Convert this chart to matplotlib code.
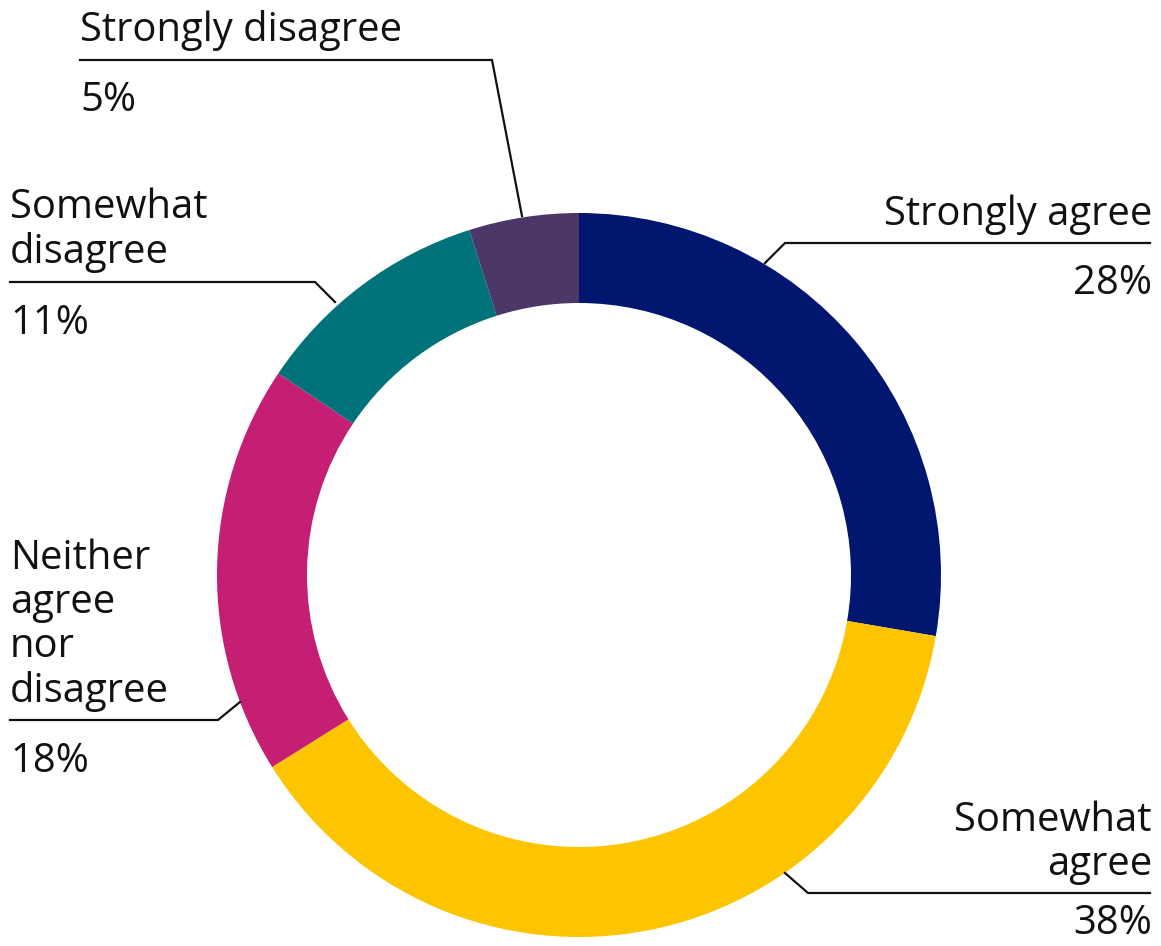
import matplotlib
matplotlib.use('Agg')
import matplotlib.pyplot as plt

labels = ['Strongly agree', 'Somewhat\nagree', 'Neither\nagree\nnor\ndisagree',
          'Somewhat\ndisagree', 'Strongly disagree']
values = [27.7, 38.4, 18.3, 10.7, 4.9]
pct_labels = ['28%', '38%', '18%', '11%', '5%']
colors = ['#00166F', '#FDC500', '#C41F73', '#00737A', '#4B3869']

W, H = 1161, 946
fig = plt.figure(figsize=(W / 100, H / 100), dpi=100)
ax = fig.add_axes([0, 0, 1, 1])

cx, cy = 579, H - 575
r_out = 362
ax.pie(values, colors=colors, startangle=90, counterclock=False,
       center=(cx, cy), radius=r_out, frame=True,
       wedgeprops=dict(width=90, linewidth=0))
ax.set_xlim(0, W)
ax.set_ylim(0, H)
ax.set_aspect('equal')
ax.axis('off')

font = dict(family=['Open Sans', 'DejaVu Sans'], fontsize=28.8, color='#111111')

# leader lines in pixel space (x, y from top): start, elbow, end
leaders = [
    [(765, 263), (785, 243), (1150, 243)],
    [(785, 873), (808, 893), (1150, 893)],
    [(240, 702), (218, 720), (10, 720)],
    [(335, 302), (315, 282), (10, 282)],
    [(522, 216), (492, 60), (80, 60)],
]
# label anchor: x, y of label bottom, y of pct top, alignment
anchors = [
    (1152, 235, 264, 'right'),
    (1152, 885, 904, 'right'),
    (10, 712, 741, 'left'),
    (10, 273, 303, 'left'),
    (80, 51, 81, 'left'),
]

for pts, (x, yb, yt, ha), lab, pct in zip(leaders, anchors, labels, pct_labels):
    xs = [p[0] for p in pts]
    ys = [H - p[1] for p in pts]
    ax.plot(xs, ys, color='#111111', lw=1.6, solid_joinstyle='miter')
    ax.text(x, H - yb, lab, ha=ha, va='bottom', linespacing=1.12, **font)
    ax.text(x, H - yt, pct, ha=ha, va='top', **font)

fig.savefig('out.png', dpi=100)
